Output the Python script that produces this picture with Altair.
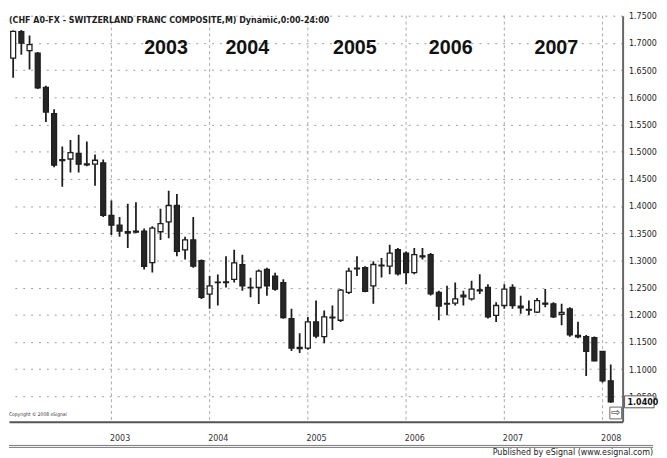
import altair as alt
import pandas as pd

# ---------------- data (monthly USD/CHF candles, Dec 2001 .. Jan 2008) ----------------
months = pd.date_range("2001-12-01", "2008-01-01", freq="MS").strftime("%Y-%m").tolist()

opens = [1.6720, 1.7205, 1.6858, 1.6813, 1.6180, 1.5701, 1.4855, 1.4865, 1.4968, 1.4775,
         1.4769, 1.4793, 1.3829, 1.3648, 1.3530, 1.3540, 1.3540, 1.2961, 1.3527, 1.3708,
         1.4010, 1.3195, 1.3376, 1.2997, 1.2381, 1.2590, 1.2605, 1.2653, 1.2924, 1.2505,
         1.2502, 1.2834, 1.2713, 1.2593, 1.1930, 1.1400, 1.1388, 1.1871, 1.1599, 1.1955,
         1.1900, 1.2413, 1.2860, 1.2866, 1.2533, 1.2900, 1.2895, 1.3197, 1.3136, 1.2775,
         1.3085, 1.3106, 1.2413, 1.2195, 1.2214, 1.2360, 1.2292, 1.2460, 1.2503, 1.1990,
         1.2171, 1.2503, 1.2160, 1.2100, 1.2051, 1.2215, 1.2202, 1.2010, 1.2111, 1.1620,
         1.1599, 1.1580, 1.1327, 1.0786]
highs = [1.7230, 1.7238, 1.7138, 1.6831, 1.6211, 1.5782, 1.5095, 1.5216, 1.5312, 1.5185,
         1.4950, 1.4854, 1.4100, 1.3798, 1.4040, 1.4070, 1.3588, 1.3630, 1.3949, 1.4281,
         1.4221, 1.3437, 1.3799, 1.3015, 1.2713, 1.2743, 1.3075, 1.3196, 1.3105, 1.2683,
         1.2834, 1.2864, 1.2773, 1.2653, 1.2111, 1.1659, 1.1961, 1.2261, 1.2080, 1.2171,
         1.2473, 1.2866, 1.3075, 1.2895, 1.2985, 1.3046, 1.3287, 1.3227, 1.3166, 1.3227,
         1.3227, 1.3136, 1.2442, 1.2533, 1.2594, 1.2442, 1.2624, 1.2744, 1.2563, 1.2232,
         1.2563, 1.2563, 1.2352, 1.2262, 1.2310, 1.2473, 1.2232, 1.2202, 1.2141, 1.1871,
         1.1629, 1.1599, 1.1327, 1.1086]
lows = [1.6360, 1.6782, 1.6511, 1.6153, 1.5547, 1.4715, 1.4354, 1.4616, 1.4616, 1.4733,
        1.4372, 1.3798, 1.3467, 1.3437, 1.3227, 1.3498, 1.2835, 1.2780, 1.3376, 1.3407,
        1.3075, 1.3015, 1.2864, 1.2291, 1.2110, 1.2170, 1.2502, 1.2593, 1.2442, 1.2321,
        1.2201, 1.2351, 1.2442, 1.1929, 1.1334, 1.1298, 1.1357, 1.1569, 1.1478, 1.1719,
        1.1870, 1.2383, 1.2713, 1.2413, 1.2202, 1.2684, 1.2744, 1.2724, 1.2563, 1.2744,
        1.3015, 1.2353, 1.1900, 1.1990, 1.2171, 1.2171, 1.2262, 1.2383, 1.1931, 1.1870,
        1.2111, 1.2111, 1.2021, 1.1990, 1.2033, 1.2141, 1.1940, 1.1810, 1.1598, 1.1569,
        1.0876, 1.1146, 1.0756, 1.0385]
closes = [1.7210, 1.6994, 1.6967, 1.6171, 1.5728, 1.4751, 1.4835, 1.4981, 1.4769, 1.4755,
          1.4842, 1.3829, 1.3648, 1.3540, 1.3503, 1.3522, 1.2889, 1.3594, 1.3678, 1.4010,
          1.3165, 1.3376, 1.2894, 1.2321, 1.2532, 1.2600, 1.2592, 1.2954, 1.2532, 1.2495,
          1.2804, 1.2532, 1.2472, 1.1947, 1.1388, 1.1380, 1.1871, 1.1610, 1.1961, 1.1945,
          1.2455, 1.2804, 1.2845, 1.2432, 1.2925, 1.2915, 1.3136, 1.2754, 1.2775, 1.3106,
          1.3065, 1.2383, 1.2160, 1.2210, 1.2292, 1.2330, 1.2473, 1.2440, 1.1961, 1.2171,
          1.2473, 1.2171, 1.2130, 1.2085, 1.2262, 1.2195, 1.1961, 1.2045, 1.1629, 1.1595,
          1.1327, 1.1155, 1.0786, 1.0400]

price_ticks = [round(1.05 + 0.05 * k, 2) for k in range(15)]
big_years = ["2003", "2004", "2005", "2006", "2007"]
axis_years = ["2003", "2004", "2005", "2006", "2007", "2008"]

title_text = "(CHF A0-FX - SWITZERLAND FRANC COMPOSITE,M) Dynamic,0:00-24:00"
copyright_text = "Copyright \u00a9 2008 eSignal"
publisher_text = "Published by eSignal (www.esignal.com)"

# ---------------- tables ----------------
df = pd.DataFrame({"month": months, "open": opens, "high": highs, "low": lows, "close": closes})
df["i"] = range(len(df))
jan_idx = [months.index(y + "-01") for y in axis_years]
dec_idx = [j - 1 for j in jan_idx]
grid_df = pd.DataFrame({"i": dec_idx})
big_pos = [18.67, 28.6, 41.74, 53.45, 66.35]
ann_df = pd.DataFrame({"label": big_years, "i": big_pos})
last_df = pd.DataFrame({"close": [closes[-1]], "top": [closes[-1] + 0.011], "bot": [closes[-1] - 0.011],
                        "label": [f"{closes[-1]:.4f}"]})

FONT = "Liberation Sans Narrow, Arial Narrow, DejaVu Sans Condensed, Liberation Sans, sans-serif"
W, H = 624, 413

xscale = alt.Scale(domain=[0.09, 73.85], nice=False, zero=False)
yscale = alt.Scale(domain=[1.0032, 1.75], nice=False, zero=False)

xaxis = alt.Axis(values=jan_idx, labelExpr="'' + round(2002 + (datum.value - 1) / 12)",
                 grid=False, ticks=False, tickSize=0, domainColor="#555", domainWidth=2,
                 labelPadding=12, labelFontSize=9, labelFont=FONT, labelColor="#333",
                 title=None)
yaxis = alt.Axis(orient="right", values=price_ticks, format=".4f", grid=True,
                 gridDash=[2, 6], gridColor="#9a9a9a", gridWidth=1, ticks=False, tickSize=0,
                 domainColor="#666", domainWidth=2, labelPadding=6, labelFontSize=9,
                 labelFont=FONT, labelColor="#222", title=None)

X = alt.X("i:Q", scale=xscale, axis=xaxis)

vgrid = alt.Chart(grid_df).mark_rule(color="#a8a8a8", strokeDash=[3, 3], strokeWidth=1).encode(
    x=X, y=alt.value(0), y2=alt.value(H))

wicks = alt.Chart(df).mark_rule(color="#1e1e1e", strokeWidth=1.8, clip=True).encode(
    x=X,
    y=alt.Y("low:Q", scale=yscale, axis=yaxis),
    y2="high:Q")

bodies = alt.Chart(df).mark_bar(width=5, stroke="#1e1e1e", strokeWidth=1.3, clip=True).encode(
    x=X,
    y=alt.Y("open:Q", scale=yscale, axis=yaxis),
    y2="close:Q",
    fill=alt.condition("datum.close >= datum.open", alt.value("#ffffff"), alt.value("#262626")))

big = alt.Chart(ann_df).mark_text(fontSize=20, fontWeight="bold", font="Liberation Sans, Arial, sans-serif",
                                  color="#111", baseline="middle").encode(
    x=X, y=alt.value(33), text="label:N")

title = alt.Chart(pd.DataFrame({"t": [title_text]})).mark_text(
    fontSize=9, fontWeight="bold", font=FONT, color="#222", align="left", baseline="top").encode(
    x=alt.value(0), y=alt.value(0), text="t:N")

copyright = alt.Chart(pd.DataFrame({"t": [copyright_text]})).mark_text(
    fontSize=5, font=FONT, color="#333", align="left", baseline="middle").encode(
    x=alt.value(0), y=alt.value(H - 8), text="t:N")

arrow_box = alt.Chart(pd.DataFrame({"a": [0]})).mark_rect(fill="white", stroke="#666", strokeWidth=1).encode(
    x=alt.value(611), x2=alt.value(623), y=alt.value(H - 15), y2=alt.value(H - 3))

arrow = alt.Chart(pd.DataFrame({"t": ["\u21e8"]})).mark_text(
    fontSize=11, color="#333", align="center", baseline="middle").encode(
    x=alt.value(617), y=alt.value(H - 9), text="t:N")

last_box = alt.Chart(last_df).mark_rect(fill="white", stroke="#555", strokeWidth=1).encode(
    x=alt.value(W + 2), x2=alt.value(W + 32),
    y=alt.Y("top:Q", scale=yscale, axis=yaxis), y2="bot:Q")

last_lbl = alt.Chart(last_df).mark_text(fontSize=9, fontWeight="bold", font=FONT, color="#111",
                                        align="left", baseline="middle").encode(
    x=alt.value(W + 5), y=alt.Y("close:Q", scale=yscale, axis=yaxis), text="label:N")

sep1 = alt.Chart(pd.DataFrame({"a": [0]})).mark_rule(color="#777", strokeWidth=1).encode(
    x=alt.value(0), x2=alt.value(655), y=alt.value(H + 24))
sep2 = alt.Chart(pd.DataFrame({"a": [0]})).mark_rule(color="#777", strokeWidth=1).encode(
    x=alt.value(0), x2=alt.value(655), y=alt.value(H + 26))

pub = alt.Chart(pd.DataFrame({"t": [publisher_text]})).mark_text(
    fontSize=9, font=FONT, color="#222", align="right", baseline="middle").encode(
    x=alt.value(655), y=alt.value(H + 31), text="t:N")

chart = alt.layer(vgrid, wicks, bodies, big, title, copyright, arrow_box, arrow, last_box, last_lbl,
                  sep1, sep2, pub).properties(
    width=W, height=H, padding=0, background="white"
).configure_view(stroke=None)

chart.save("out.html", embed_options={"renderer": "svg", "actions": False})
